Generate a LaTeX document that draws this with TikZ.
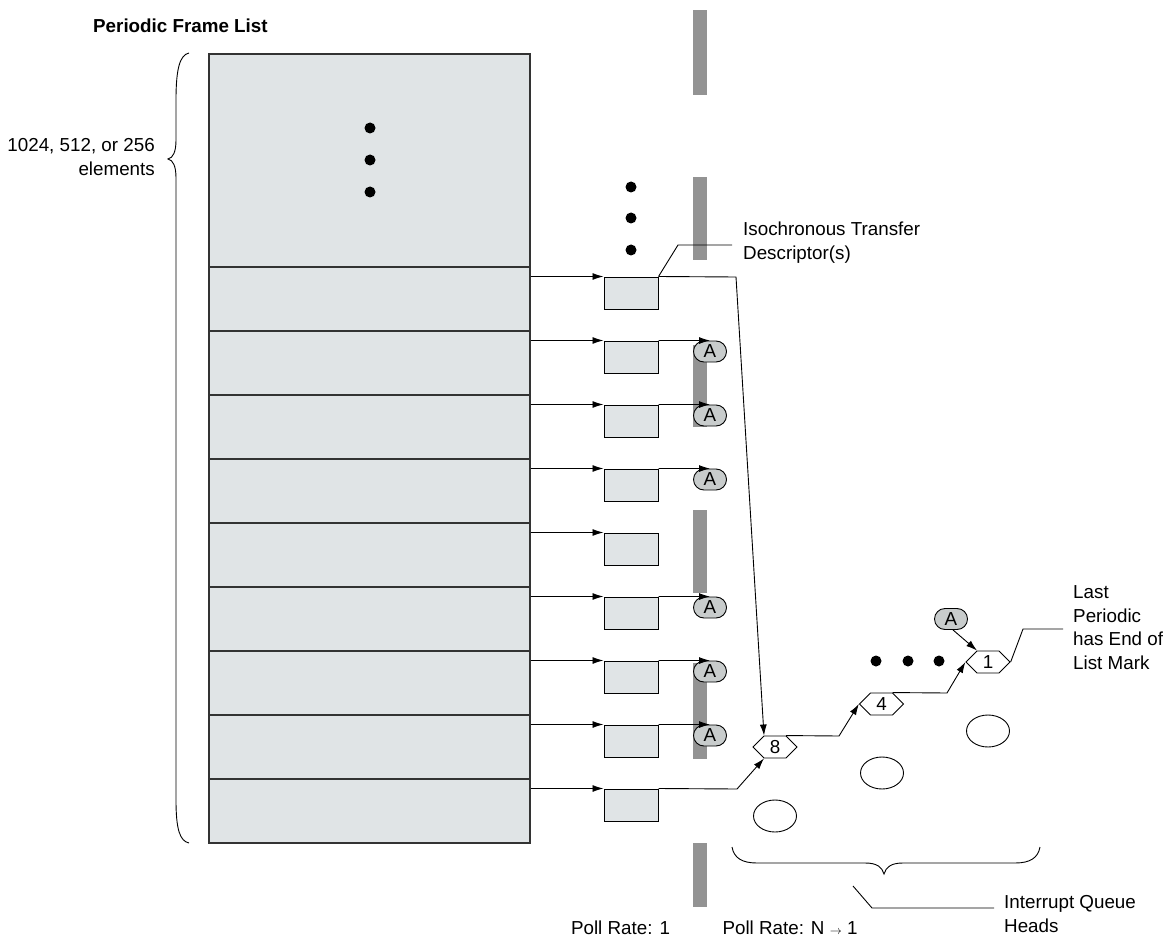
\documentclass[tikz,border=0pt]{standalone}
\usepackage{fontspec}
\setmainfont{Liberation Sans}
\usetikzlibrary{shapes.symbols,shapes.misc,shapes.geometric,arrows.meta}
\definecolor{tblfill}{RGB}{224,228,230}
\definecolor{barg}{RGB}{147,147,147}
\definecolor{afill}{RGB}{200,204,204}
\begin{document}
\begin{tikzpicture}[x=1pt,y=-1pt,
  every node/.style={font=\fontsize{18.8}{23.5}\selectfont, inner sep=0pt},
  tblrow/.style={draw=black!80, line width=1.2pt, fill=tblfill, minimum width=321pt, minimum height=64pt},
  tdbox/.style={draw=black, line width=1pt, fill=tblfill, minimum width=54pt, minimum height=32pt},
  anode/.style={rounded rectangle, draw=black, line width=0.9pt, fill=afill, minimum width=33pt, minimum height=21pt},
  hexa/.style={signal, signal to=west and east, signal pointer angle=90, draw=black, line width=0.9pt, fill=white, minimum width=44pt, minimum height=22pt},
  ell/.style={ellipse, draw=black, line width=0.9pt, minimum width=43pt, minimum height=32pt},
  arr/.style={line width=0.9pt, -{Latex[length=11pt,width=7pt]}},
  ln/.style={line width=0.9pt},
  bar/.style={fill=barg}
]
\useasboundingbox (0,0) rectangle (1169,941);

% gray bars
\fill[bar] (693,10) rectangle (707,95);
\fill[bar] (693,177) rectangle (707,260);
\fill[bar] (693,345) rectangle (707,427);
\fill[bar] (693,510) rectangle (707,593);
\fill[bar] (693,663) rectangle (707,759);
\fill[bar] (693,843) rectangle (707,907);

% title
\node[anchor=west, font=\fontsize{18.8}{23.5}\selectfont\bfseries] (title) at (93,26) {Periodic Frame List};

% table
\node[tblrow, minimum height=213pt] (t0) at (369.5,160.5) {};
\fill (370,128) circle (5.5pt);
\fill (370,160) circle (5.5pt);
\fill (370,192) circle (5.5pt);
\foreach \k in {1,...,9} {
  \pgfmathsetmacro\rtop{267+64*(\k-1)}
  \node[tblrow] (t\k) at (369.5,\rtop+32) {};
  \node[tdbox] (b\k) at (631,\rtop+26) {};
  \draw[arr] (b\k.north west -| t\k.east) -- (b\k.north west);
}

% A nodes
\foreach \k in {2,3,4,6,7,8} {
  \pgfmathsetmacro\rtop{267+64*(\k-1)}
  \node[anode] (a\k) at (710,\rtop+20.5) {A};
  \draw[arr] (b\k.north east) -- ([xshift=6pt]a\k.north west);
}

% left brace and label
\draw[ln] (189,53) .. controls (180,55) and (176,68) .. (176,100) -- (176,140)
  .. controls (176,152) and (173,158) .. (168,159)
  .. controls (173,160) and (176,166) .. (176,178) -- (176,800)
  .. controls (176,830) and (180,841) .. (189,843);
\node[anchor=east, align=right] (cnt) at (155,157) {1024, 512, or 256\\elements};

% dots above iTDs
\fill (631,187) circle (5.5pt);
\fill (631,218) circle (5.5pt);
\fill (631,250) circle (5.5pt);

% isochronous callout
\coordinate (isoEnd) at (732,245);
\node[anchor=west, align=left] (iso) at (743,242.5) {Isochronous Transfer\\Descriptor(s)};
\draw[ln] (b1.north east) -- (678,245) -- (isoEnd);

% queue heads
\node[hexa] (h8) at (775,747) {8};
\node[hexa] (h4) at (881.5,704) {4};
\node[hexa] (h1) at (988,662) {1};
\node[ell] (e8) at (775,816) {};
\node[ell] (e4) at (882,773) {};
\node[ell] (e1) at (988,731) {};
\node[anode] (aL) at (951,619) {A};

\coordinate (c1) at (736,277);
\draw[arr] (b1.north east) -- (c1) -- ([xshift=-11pt]h8.north);
\coordinate (c9) at (737,789);
\draw[arr] (b9.north east) -- (c9) -- ([xshift=-11pt]h8.south);
\coordinate (c84) at (839,736);
\draw[arr] ([xshift=11pt]h8.north) -- (c84) -- (h4.west);
\coordinate (c41) at (947,693);
\draw[arr] ([xshift=11pt]h4.north) -- (c41) -- (h1.west);
\draw[arr] ([xshift=-4pt]aL.south east) -- ([xshift=-11pt]h1.north);

\fill (876,661) circle (5.5pt);
\fill (908,661) circle (5.5pt);
\fill (939,661) circle (5.5pt);

% last periodic callout
\coordinate (lastEnd) at (1063,629);
\node[anchor=west, align=left] (last) at (1073,627.5) {Last\\Periodic\\has End of\\List Mark};
\draw[ln] (h1.east) -- (1023,629) -- (lastEnd);

% bottom brace
\draw[ln] (732,847) .. controls (734,858) and (742,863) .. (757,863) -- (865,863)
  .. controls (877,863) and (882,867) .. (884,874)
  .. controls (886,867) and (891,863) .. (903,863) -- (1015,863)
  .. controls (1030,863) and (1038,858) .. (1040,847);

% interrupt queue heads callout
\coordinate (iqStart) at (853,886);
\coordinate (iqEnd) at (994,908);
\node[anchor=west, align=left] (iq) at (1004,914) {Interrupt Queue\\Heads};
\draw[ln] (iqStart) -- (872,908) -- (iqEnd);

% poll rates
\node[anchor=base] (pr1) at (620.5,934) {Poll Rate: 1};
\node[anchor=base] (prn) at (790,934) {Poll Rate: N {\fontsize{12}{14}\selectfont$\rightarrow$} 1};
\end{tikzpicture}
\end{document}
